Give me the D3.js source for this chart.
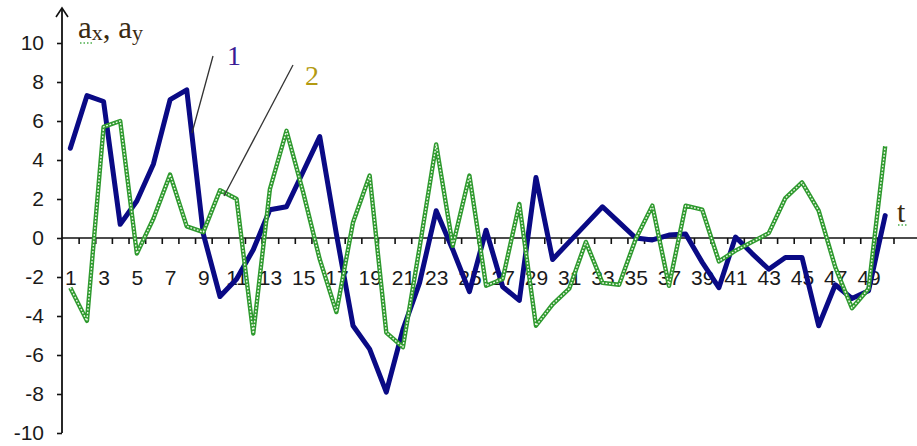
<!DOCTYPE html>
<html>
<head>
<meta charset="utf-8">
<script src="https://cdn.jsdelivr.net/npm/d3@7/dist/d3.min.js"></script>
<style>
  html, body { margin: 0; padding: 0; background: #fff; }
  svg { display: block; }
  .tick text { font-family: "Liberation Sans", Arial, sans-serif; font-size: 21px; fill: #1a1a1a; }
</style>
</head>
<body>
<svg id="chart" width="917" height="446"></svg>
<script>
// time steps 1..50
const steps = d3.range(1, 51);

// curve 1: a_x
const seriesAx = [
  4.6, 7.3, 7.0, 0.7, 1.9, 3.8, 7.1, 7.6, 0.2, -3.0,
  -2.1, -0.6, 1.45, 1.6, 3.4, 5.2, 0.2, -4.5, -5.7, -7.9,
  -4.7, -2.3, 1.4, -0.6, -2.75, 0.4, -2.5, -3.2, 3.1, -1.1,
  -0.2, 0.7, 1.6, 0.8, 0.0, -0.1, 0.15, 0.2, -1.25, -2.55,
  0.05, -0.8, -1.6, -1.0, -1.0, -4.5, -2.4, -3.1, -2.7, 1.15
];

// curve 2: a_y
const seriesAy = [
  -2.55, -4.25, 5.7, 6.0, -0.8, 1.0, 3.25, 0.6, 0.3, 2.45,
  2.0, -4.9, 2.5, 5.5, 2.35, -1.1, -3.8, 0.8, 3.2, -4.85,
  -5.6, -0.5, 4.8, -0.4, 3.2, -2.45, -2.1, 1.75, -4.5, -3.4,
  -2.6, -0.2, -2.3, -2.4, -0.05, 1.66, -2.45, 1.66, 1.45, -1.2,
  -0.65, -0.2, 0.25, 2.05, 2.85, 1.4, -1.5, -3.6, -2.6, 4.7
];

const yTicks = d3.range(-10, 11, 2);
const xLabels = steps.filter(d => d % 2 === 1);

const svg = d3.select("#chart");

const x = d3.scalePoint().domain(steps).range([62, 893.5]).padding(0.5);
const xEdge = d3.scaleLinear().domain([0.5, 50.5]).range([62, 893.5]);
const y = d3.scaleLinear().domain([-10, 10]).range([433, 43]);

const axisColor = "#111";

// vertical axis with tick labels (plain hyphen for negatives)
const yAxis = svg.append("g")
  .attr("transform", "translate(62,0)")
  .call(d3.axisLeft(y).tickValues(yTicks).tickSize(5).tickPadding(13)
    .tickSizeOuter(0).tickFormat(d => String(d)));
yAxis.select(".domain").remove();
yAxis.selectAll(".tick line").attr("stroke", axisColor).attr("stroke-width", 1.6);

svg.append("line")
  .attr("x1", 62).attr("x2", 62).attr("y1", y(-10)).attr("y2", 8)
  .attr("stroke", axisColor).attr("stroke-width", 1.8);
svg.append("path")
  .attr("d", "M56,17 L62,8 L68,17")
  .attr("fill", "none").attr("stroke", axisColor).attr("stroke-width", 1.6);

// horizontal axis: tick marks on category boundaries
const xTickAxis = svg.append("g")
  .attr("transform", `translate(0,${y(0)})`)
  .call(d3.axisBottom(xEdge).tickValues(steps.map(d => d + 0.5)).tickSize(6).tickFormat(""));
xTickAxis.select(".domain").remove();
xTickAxis.selectAll(".tick line").attr("stroke", axisColor).attr("stroke-width", 1.6);

// horizontal axis: odd step labels
const xLabelAxis = svg.append("g")
  .attr("transform", `translate(0,${y(0)})`)
  .call(d3.axisBottom(x).tickValues(xLabels).tickSize(0).tickPadding(32));
xLabelAxis.select(".domain").remove();

svg.append("line")
  .attr("x1", 62).attr("x2", 917).attr("y1", y(0)).attr("y2", y(0))
  .attr("stroke", axisColor).attr("stroke-width", 1.6);

// data lines
const line = d3.line().x((d, i) => x(steps[i])).y(d => y(d));

svg.append("path")
  .datum(seriesAx)
  .attr("d", line)
  .attr("fill", "none")
  .attr("stroke", "#0a0a85")
  .attr("stroke-width", 5)
  .attr("stroke-linejoin", "round")
  .attr("stroke-linecap", "round");

svg.append("path")
  .datum(seriesAy)
  .attr("d", line)
  .attr("fill", "none")
  .attr("stroke", "#2f9a2f")
  .attr("stroke-width", 4.4)
  .attr("stroke-linejoin", "round");
svg.append("path")
  .datum(seriesAy)
  .attr("d", line)
  .attr("fill", "none")
  .attr("stroke", "#eef8e8")
  .attr("stroke-width", 1.4)
  .attr("stroke-dasharray", "1.8 1.6")
  .attr("stroke-linejoin", "round");

// curve callouts
const callouts = [
  { label: "1", color: "#3b1a95", x1: 192, y1: 133, x2: 213, y2: 56, tx: 227, ty: 65 },
  { label: "2", color: "#b39a12", x1: 224, y1: 196, x2: 293, y2: 65, tx: 305, ty: 85 }
];
callouts.forEach(c => {
  svg.append("line")
    .attr("x1", c.x1).attr("y1", c.y1).attr("x2", c.x2).attr("y2", c.y2)
    .attr("stroke", "#333").attr("stroke-width", 1.3);
  svg.append("text")
    .attr("x", c.tx).attr("y", c.ty)
    .attr("font-family", "'Liberation Serif', 'Times New Roman', serif")
    .attr("font-size", 28)
    .attr("fill", c.color)
    .text(c.label);
});

// axis titles
const title = svg.append("text")
  .attr("x", 78).attr("y", 38)
  .attr("font-family", "'Liberation Serif', 'Times New Roman', serif")
  .attr("font-size", 31)
  .attr("fill", "#3a2a10");
title.append("tspan").text("a");
title.append("tspan").attr("font-size", 22).attr("dy", 2).text("x");
title.append("tspan").attr("dy", -2).text(", a");
title.append("tspan").attr("font-size", 22).attr("dy", 2).text("y");

svg.append("text")
  .attr("x", 897).attr("y", 222)
  .attr("font-family", "'Liberation Serif', 'Times New Roman', serif")
  .attr("font-size", 30)
  .attr("fill", "#3a2a10")
  .text("t");

// small dotted marks under the titles
[[80, 43, 92], [898, 225, 908]].forEach(([a, yy, b]) => {
  svg.append("line")
    .attr("x1", a).attr("x2", b).attr("y1", yy).attr("y2", yy)
    .attr("stroke", "#4cae4c").attr("stroke-width", 1.6)
    .attr("stroke-dasharray", "1.5 2");
});
</script>
</body>
</html>
